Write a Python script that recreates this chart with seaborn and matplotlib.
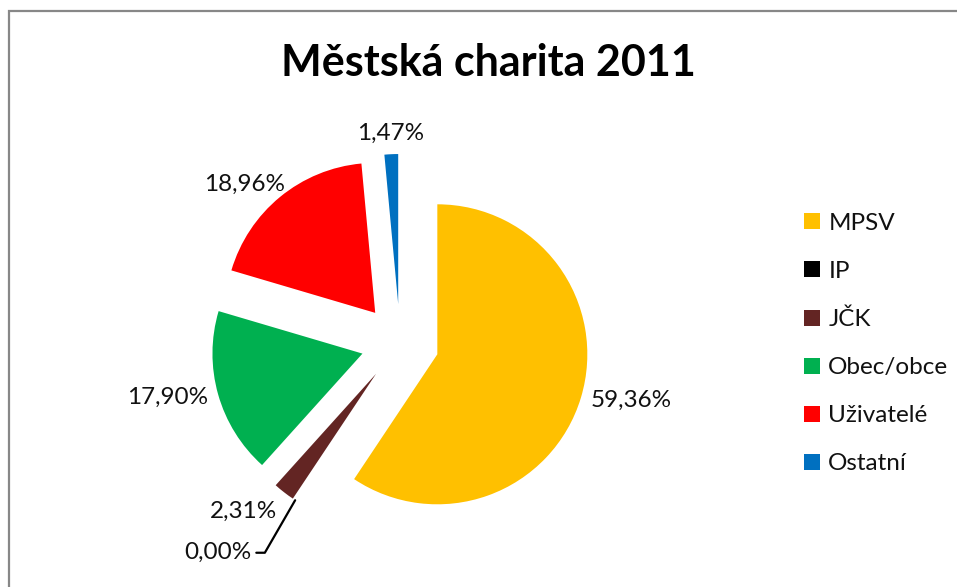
import matplotlib
matplotlib.use("Agg")
import matplotlib.pyplot as plt
from matplotlib.patches import Patch, Rectangle
import numpy as np
import seaborn as sns

# Funding sources of the charity in 2011 (share in %)
categories = ["MPSV", "IP", "JČK", "Obec/obce", "Uživatelé", "Ostatní"]
shares = [59.36, 0.00, 2.31, 17.90, 18.96, 1.47]
labels = ["59,36%", "0,00%", "2,31%", "17,90%", "18,96%", "1,47%"]
colors = ["#FFC000", "#000000", "#632523", "#00B050", "#FF0000", "#0070C0"]
title = "Městská charita 2011"

sns.set_theme(style="white")
plt.rcParams["font.family"] = ["Lato", "DejaVu Sans"]

W, H = 957, 587
fig = plt.figure(figsize=(W / 100, H / 100), dpi=100)
fig.patch.set_facecolor("white")

# axes spanning the whole figure; one data unit = pie radius (150 px)
R_PX = 150.0
CX, CY = 400.0, 343.0
ax = fig.add_axes([0, 0, 1, 1])
palette = sns.color_palette(colors)
wedges, _ = ax.pie(
    shares,
    colors=palette,
    startangle=90,
    counterclock=False,
    explode=[0.26] * len(shares),
    radius=1.0,
    wedgeprops=dict(linewidth=0),
)
ax.set_xlim(-CX / R_PX, (W - CX) / R_PX)
ax.set_ylim(-(H - CY) / R_PX, CY / R_PX)
ax.set_aspect("auto")
ax.axis("off")

label_fs = 17.5
text_color = "#111111"
for w, lab, val in zip(wedges, labels, shares):
    mid = np.deg2rad((w.theta1 + w.theta2) / 2)
    d = np.array([np.cos(mid), np.sin(mid)])
    cx, cy = w.center
    if val == 0:
        tip = (cx + d[0], cy + d[1])
        ax.annotate(
            lab, xy=tip, xytext=(tip[0] - 0.29, tip[1] - 0.35),
            ha="right", va="center", fontsize=label_fs, color=text_color,
            arrowprops=dict(arrowstyle="-", color="black", lw=1.6,
                            connectionstyle="angle,angleA=0,angleB=60,rad=0",
                            shrinkA=1, shrinkB=0),
        )
        continue
    gap = 0.07
    px, py = cx + (1 + gap) * d[0], cy + (1 + gap) * d[1]
    ha = "left" if d[0] > 0.3 else ("right" if d[0] < -0.3 else "center")
    va = "bottom" if d[1] > 0.3 else ("top" if d[1] < -0.3 else "center")
    if ha == "right" and va == "bottom":
        # corner labels sit a little further along the arc
        px += 0.08
        py -= 0.04
    ax.text(px, py, lab, ha=ha, va=va, fontsize=label_fs, color=text_color)

fig.text(488 / W, 1 - 63 / H, title, ha="center", va="center",
         fontsize=31, fontweight="bold", color="black")

handles = [Patch(facecolor=c, edgecolor="none") for c in colors]
fig.legend(
    handles, categories,
    loc="center left", bbox_to_anchor=(804 / W, 1 - 343.5 / H),
    frameon=False, fontsize=label_fs, labelcolor=text_color,
    handlelength=0.65, handleheight=0.65, handletextpad=0.35,
    labelspacing=1.11, borderaxespad=0, borderpad=0,
)

# outer chart frame
fig.patches.append(Rectangle((9 / W, -1), 2, 1 - 11 / H + 1,
                             transform=fig.transFigure, fill=False,
                             edgecolor="#878787", linewidth=1.6))

fig.savefig("out.png", dpi=100, facecolor="white")
